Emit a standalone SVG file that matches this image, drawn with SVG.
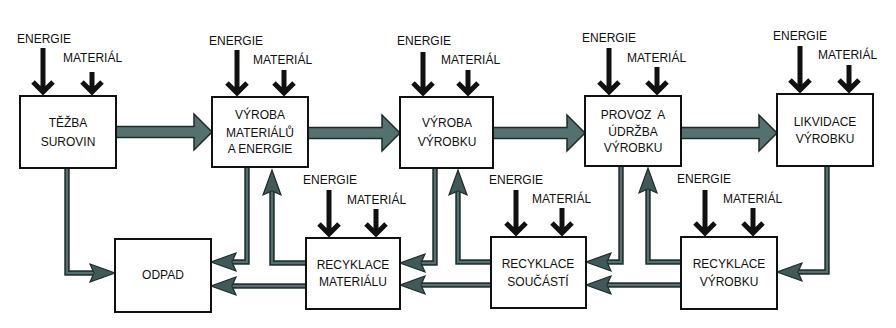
<svg xmlns="http://www.w3.org/2000/svg" width="896" height="328" viewBox="0 0 896 328">
<style>
text{font-family:"Liberation Sans",Arial,sans-serif;font-size:12px;fill:#111}
.lbl{text-anchor:middle}
.box{fill:#fff;stroke:#111;stroke-width:2}
.in{fill:none;stroke:#111;stroke-width:5;stroke-linejoin:miter}
.big{fill:#55716f;stroke:#1f2b2b;stroke-width:1.5;stroke-linejoin:miter}
.co{fill:none;stroke:#263636;stroke-width:5.5}
.ci{fill:none;stroke:#55706e;stroke-width:2;marker-end:url(#h)}
</style>
<defs>
<marker id="h" markerUnits="userSpaceOnUse" markerWidth="30" markerHeight="22" refX="3" refY="10" orient="auto" overflow="visible">
<path d="M0,1 L25,10 L0,19 L4,10 Z" fill="#3f5a58" stroke="#1f2b2b" stroke-width="1.2" stroke-linejoin="miter"/>
</marker>
</defs>
<rect width="896" height="328" fill="#fff"/>

<g id="connectors">
<polygon class="big" points="116,126.5 194,126.5 194,114 212,132 194,150 194,137.5 116,137.5"/>
<polygon class="big" points="308,127.5 382,127.5 382,115 400,133 382,151 382,138.5 308,138.5"/>
<polygon class="big" points="493,127.5 567,127.5 567,115 585,133 567,151 567,138.5 493,138.5"/>
<polygon class="big" points="681,127.5 759,127.5 759,115 777,133 759,151 759,138.5 681,138.5"/>

<path class="co" d="M67 168 V273 H93"/><path class="ci" d="M67 168 V273 H93"/>
<path class="co" d="M247 167 V262 H233"/><path class="ci" d="M247 167 V262 H233"/>
<path class="co" d="M306 263 H272 V192"/><path class="ci" d="M306 263 H272 V192"/>
<path class="co" d="M306 286 H233"/><path class="ci" d="M306 286 H233"/>
<path class="co" d="M435 168 V263 H422"/><path class="ci" d="M435 168 V263 H422"/>
<path class="co" d="M491 285 H422"/><path class="ci" d="M491 285 H422"/>
<path class="co" d="M491 262 H458 V192"/><path class="ci" d="M491 262 H458 V192"/>
<path class="co" d="M621 166 V262 H608"/><path class="ci" d="M621 166 V262 H608"/>
<path class="co" d="M681 262 H648 V190"/><path class="ci" d="M681 262 H648 V190"/>
<path class="co" d="M681 285 H608"/><path class="ci" d="M681 285 H608"/>
<path class="co" d="M827 166 V272 H799"/><path class="ci" d="M827 166 V272 H799"/>
</g>

<g id="tezba">
<text x="17" y="43">ENERGIE</text><text x="63" y="62">MATERIÁL</text>
<path class="in" d="M43 48 V93 M33 82 L43 92 L53 82"/>
<path class="in" d="M92 72 V93 M82 82 L92 92 L102 82"/>
<rect class="box" x="20" y="96" width="96" height="72"/>
<text class="lbl" x="68" y="127">TĚŽBA</text>
<text class="lbl" x="68" y="146">SUROVIN</text>
</g>

<g id="vyroba-materialu">
<text x="209" y="45">ENERGIE</text><text x="253" y="64">MATERIÁL</text>
<path class="in" d="M237 50 V94 M227 83 L237 93 L247 83"/>
<path class="in" d="M284 70 V94 M274 83 L284 93 L294 83"/>
<rect class="box" x="212" y="97" width="96" height="70"/>
<text class="lbl" x="260" y="119">VÝROBA</text>
<text class="lbl" x="260" y="137">MATERIÁLŮ</text>
<text class="lbl" x="260" y="153">A ENERGIE</text>
</g>

<g id="vyroba-vyrobku">
<text x="397" y="45">ENERGIE</text><text x="441" y="64">MATERIÁL</text>
<path class="in" d="M423 52 V94 M413 83 L423 93 L433 83"/>
<path class="in" d="M468 70 V94 M458 83 L468 93 L478 83"/>
<rect class="box" x="400" y="97" width="93" height="71"/>
<text class="lbl" x="447" y="127">VÝROBA</text>
<text class="lbl" x="447" y="146">VÝROBKU</text>
</g>

<g id="provoz">
<text x="582" y="42">ENERGIE</text><text x="627" y="62">MATERIÁL</text>
<path class="in" d="M609 48 V93 M599 82 L609 92 L619 82"/>
<path class="in" d="M657 67 V93 M647 82 L657 92 L667 82"/>
<rect class="box" x="585" y="96" width="96" height="70"/>
<text class="lbl" x="633" y="119" xml:space="preserve">PROVOZ  A</text>
<text class="lbl" x="633" y="136">ÚDRŽBA</text>
<text class="lbl" x="633" y="152">VÝROBKU</text>
</g>

<g id="likvidace">
<text x="773" y="40">ENERGIE</text><text x="818" y="59">MATERIÁL</text>
<path class="in" d="M800 46 V91 M790 80 L800 90 L810 80"/>
<path class="in" d="M849 65 V91 M839 80 L849 90 L859 80"/>
<rect class="box" x="777" y="94" width="96" height="72"/>
<text class="lbl" x="825" y="126">LIKVIDACE</text>
<text class="lbl" x="825" y="143">VÝROBKU</text>
</g>

<g id="odpad">
<rect class="box" x="115" y="239" width="96" height="73"/>
<text class="lbl" x="163" y="279">ODPAD</text>
</g>

<g id="recyklace-materialu">
<text x="303" y="184">ENERGIE</text><text x="347" y="204">MATERIÁL</text>
<path class="in" d="M329 190 V235 M319 224 L329 234 L339 224"/>
<path class="in" d="M376 209 V235 M366 224 L376 234 L386 224"/>
<rect class="box" x="306" y="238" width="94" height="71"/>
<text class="lbl" x="353" y="269">RECYKLACE</text>
<text class="lbl" x="353" y="286">MATERIÁLU</text>
</g>

<g id="recyklace-soucasti">
<text x="489" y="184">ENERGIE</text><text x="532" y="203">MATERIÁL</text>
<path class="in" d="M516 190 V234 M506 223 L516 233 L526 223"/>
<path class="in" d="M562 208 V234 M552 223 L562 233 L572 223"/>
<rect class="box" x="491" y="237" width="95" height="71"/>
<text class="lbl" x="538" y="268">RECYKLACE</text>
<text class="lbl" x="538" y="286">SOUČÁSTÍ</text>
</g>

<g id="recyklace-vyrobku">
<text x="677" y="183">ENERGIE</text><text x="723" y="203">MATERIÁL</text>
<path class="in" d="M705 190 V234 M695 223 L705 233 L715 223"/>
<path class="in" d="M753 208 V234 M743 223 L753 233 L763 223"/>
<rect class="box" x="681" y="237" width="96" height="72"/>
<text class="lbl" x="729" y="268">RECYKLACE</text>
<text class="lbl" x="729" y="286">VÝROBKU</text>
</g>
</svg>
